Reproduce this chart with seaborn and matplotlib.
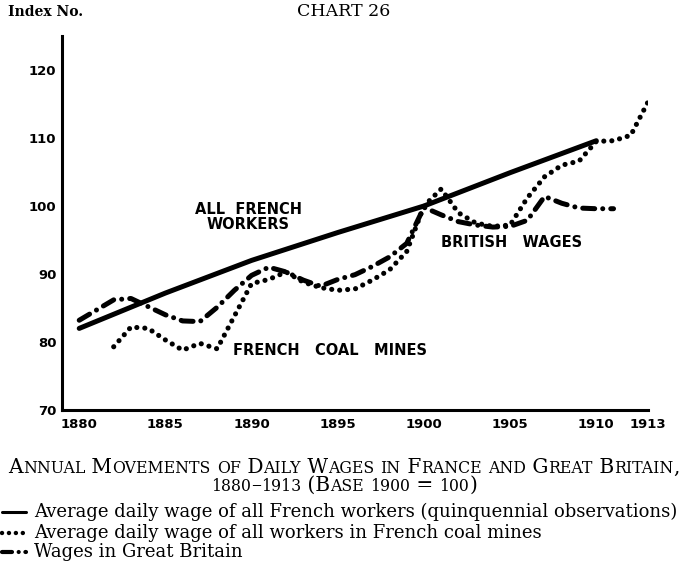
import numpy as np
import matplotlib
matplotlib.use("Agg")
import matplotlib.pyplot as plt
import pandas as pd
import seaborn as sns
from matplotlib.lines import Line2D

# quinquennial index, all French workers
years_all = [1880, 1885, 1890, 1895, 1900, 1905, 1910]
wage_all = [82.0, 87.2, 92.0, 96.1, 100.0, 104.9, 109.6]

# French coal mines, annual
years_coal = list(range(1882, 1914))
wage_coal = [79.3, 82.2, 82.0, 80.3, 78.8, 79.8, 79.0, 83.8, 88.6, 89.2,
             90.3, 88.8, 88.0, 87.6, 87.8, 89.1, 90.6, 93.3, 100.0, 102.5,
             99.0, 97.5, 97.0, 97.2, 101.2, 104.3, 106.0, 106.6, 109.5, 109.6,
             110.4, 115.3]

# Great Britain, annual
years_gb = list(range(1880, 1912))
wage_gb = [83.2, 84.7, 86.2, 86.4, 85.2, 84.0, 83.1, 83.0, 85.1, 87.6,
           89.8, 91.0, 90.3, 89.1, 88.2, 89.2, 89.9, 91.1, 92.5, 94.5,
           99.8, 98.7, 97.7, 97.2, 96.9, 97.0, 97.9, 101.4, 100.4, 99.7,
           99.6, 99.6]

x_ticks = [1880, 1885, 1890, 1895, 1900, 1905, 1910, 1913]
y_ticks = [70, 80, 90, 100, 110, 120]

legend_labels = ["Average daily wage of all French workers (quinquennial observations)",
                 "Average daily wage of all workers in French coal mines",
                 "Wages in Great Britain"]

DOTS = (0, (0.01, 1.55))
DASHDOT = (0, (2.4, 1.6, 0.01, 1.6))

sns.set_style("white")
plt.rcParams['font.family'] = ['DejaVu Sans']
plt.rcParams['text.color'] = 'black'

fig = plt.figure(figsize=(6.88, 5.70), dpi=100)
ax = fig.add_axes([62 / 688, 1 - 410 / 570, 586 / 688, 374 / 570])

df_all = pd.DataFrame({'year': years_all, 'index': wage_all})
df_coal = pd.DataFrame({'year': years_coal, 'index': wage_coal})
df_gb = pd.DataFrame({'year': years_gb, 'index': wage_gb})

sns.lineplot(data=df_all, x='year', y='index', ax=ax, color='black', lw=3.6,
             solid_capstyle='round')
sns.lineplot(data=df_coal, x='year', y='index', ax=ax, color='black', lw=3.7)
ax.lines[-1].set_linestyle(DOTS)
ax.lines[-1].set_dash_capstyle('round')
sns.lineplot(data=df_gb, x='year', y='index', ax=ax, color='black', lw=3.6)
ax.lines[-1].set_linestyle(DASHDOT)
ax.lines[-1].set_dash_capstyle('round')

ax.set_xlim(1879, 1913)
ax.set_ylim(70, 125)
ax.set_xlabel('')
ax.set_ylabel('')
sns.despine(ax=ax)
for s in ['left', 'bottom']:
    ax.spines[s].set_linewidth(2.2)
    ax.spines[s].set_color('black')

ax.set_xticks(x_ticks)
ax.set_xticklabels([str(v) for v in x_ticks])
ax.set_xticks(range(1879, 1914), minor=True)
ax.set_yticks(y_ticks)
ax.set_yticks(range(75, 126, 10), minor=True)
ax.tick_params(axis='x', which='major', direction='in', length=5, width=1.5,
               labelsize=9.5, pad=6, colors='black')
ax.tick_params(axis='x', which='minor', direction='in', length=2.5, width=1.3)
ax.tick_params(axis='y', which='both', direction='in', length=5.5, width=1.5,
               labelsize=9.5, pad=4, colors='black')
for lab in ax.get_xticklabels() + ax.get_yticklabels():
    lab.set_fontweight('bold')

lab_kw = dict(fontsize=10.5, fontweight='bold', color='black')
ax.text(1889.8, 98.4, 'ALL  FRENCH\nWORKERS', ha='center', va='center',
        linespacing=1.05, **lab_kw)
ax.text(1888.9, 78.8, 'FRENCH   COAL   MINES', ha='left', va='center', **lab_kw)
ax.text(1901.0, 94.6, 'BRITISH   WAGES', ha='left', va='center', **lab_kw)

serif = ['DejaVu Serif']
fig.text(8 / 688, 1 - 12 / 570, 'Index No.', family=serif, fontsize=10,
         fontweight='bold', va='center', ha='left')
fig.text(344 / 688, 1 - 12 / 570, 'CHART 26', family=serif, fontsize=12.5,
         va='center', ha='center')


def measure(s, size, **kw):
    r = fig.canvas.get_renderer()
    t1 = fig.text(0, 0, '|' + s + '|', fontsize=size, **kw)
    t2 = fig.text(0, 0, '||', fontsize=size, **kw)
    w = t1.get_window_extent(r).width - t2.get_window_extent(r).width
    t1.remove()
    t2.remove()
    return w


def small_caps(s, ybase, size, ratio=0.78, **kw):
    runs = []
    for ch in s:
        small = ch.islower() or ch.isdigit()
        t = ch.upper()
        sz = size * ratio if small else size
        if runs and runs[-1][1] == sz:
            runs[-1][0] += t
        else:
            runs.append([t, sz])
    fig.canvas.draw()
    widths = [measure(t, sz, **kw) for t, sz in runs]
    x = 344 - sum(widths) / 2
    for (t, sz), w in zip(runs, widths):
        fig.text(x / 688, 1 - ybase / 570, t, fontsize=sz, va='baseline',
                 ha='left', **kw)
        x += w


small_caps('Annual Movements of Daily Wages in France and Great Britain,', 473, 14.5,
           family=serif)
small_caps('1880–1913 (Base 1900 = 100)', 491, 14.5, family=serif)

leg_y = [512, 533, 552]
styles = ['-', DOTS, DASHDOT]
widths_leg = [2.2, 3.2, 3.0]
for yy, st, lw, txt in zip(leg_y, styles, widths_leg, legend_labels):
    yf = 1 - yy / 570
    ln = Line2D([2 / 688, 26 / 688], [yf, yf], transform=fig.transFigure,
                color='black', lw=lw, linestyle=st, dash_capstyle='round')
    fig.add_artist(ln)
    fig.text(34 / 688, yf, txt, family=serif, fontsize=13.0, va='center', ha='left')

fig.savefig('out.png', dpi=100)
